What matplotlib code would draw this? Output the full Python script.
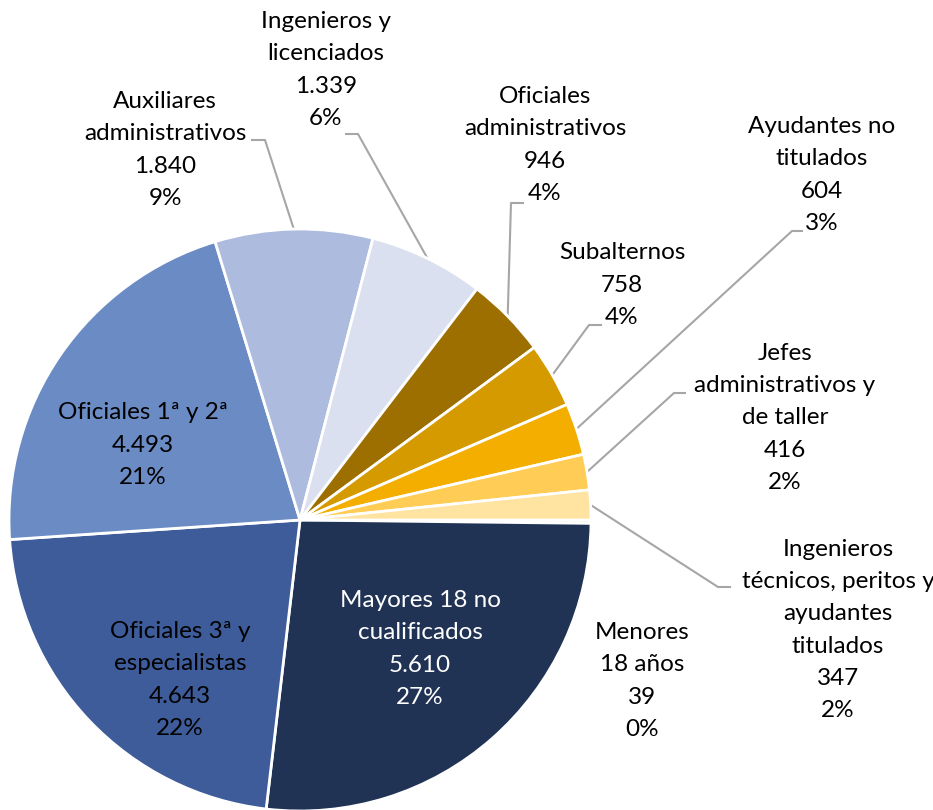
import numpy as np
import matplotlib.pyplot as plt

plt.rcParams['font.family'] = ['Lato', 'DejaVu Sans']

# data, clockwise from 3 o'clock
categories = ["Menores\n18 años", "Mayores 18 no\ncualificados", "Oficiales 3ª y\nespecialistas",
              "Oficiales 1ª y 2ª", "Auxiliares\nadministrativos", "Ingenieros y\nlicenciados",
              "Oficiales\nadministrativos", "Subalternos", "Ayudantes no\ntitulados",
              "Jefes\nadministrativos y\nde taller", "Ingenieros\ntécnicos, peritos y\nayudantes\ntitulados"]
values = [39, 5610, 4643, 4493, 1840, 1339, 946, 758, 604, 416, 347]
colors = ["#EDEDED", "#203354", "#3D5C99", "#6B8BC4", "#ADBCDE", "#DAE0F0",
          "#9C6F00", "#D49A00", "#F3AE00", "#FFCC55", "#FFE3A0"]

W, H = 933, 810
cx, cy, R = 300, H - 520, 291

fig = plt.figure(figsize=(W / 100, H / 100), dpi=100)
ax = fig.add_axes([0, 0, 1, 1])
ax.pie(values, colors=colors, startangle=0, counterclock=False,
       center=(cx, cy), radius=R, frame=True,
       wedgeprops=dict(edgecolor="white", linewidth=2))
ax.set_xlim(0, W)
ax.set_ylim(0, H)
ax.set_aspect('equal')
ax.axis('off')

total = sum(values)
cum = np.cumsum([0] + values)
mid = [-(cum[i] + values[i] / 2) / total * 360 for i in range(len(values))]

def fmt(v):
    return f"{v:,}".replace(",", ".")

# label centre (image px) and leader start points
pos = {
    0: (642, 681), 1: (420, 649), 2: (180, 680), 3: (143, 445),
    4: (165, 150), 5: (326, 70), 6: (545, 145), 7: (622, 285),
    8: (822, 175), 9: (785, 418), 10: (838, 630),
}
leaders = {
    4: [(252, 140), (265, 140)],
    5: [(346, 134), (358, 134)],
    6: [(523, 203), (511, 203)],
    7: [(601, 325), (589, 325)],
    8: [(802, 231), (792, 231)],
    9: [(685, 393), (674, 393)],
    10: [(730, 587), (718, 587)],
}

for i, cat in enumerate(categories):
    pct = round(values[i] / total * 100)
    txt = f"{cat}\n{fmt(values[i])}\n{pct}%"
    x, y = pos[i]
    col = "white" if i == 1 else "black"
    ax.text(x, H - y, txt, ha="center", va="center", fontsize=17.5,
            color=col, linespacing=1.65)
    if i in leaders:
        a = np.deg2rad(mid[i])
        ex, ey = cx + R * np.cos(a), cy + R * np.sin(a)
        pts = leaders[i]
        xs = [p[0] for p in pts] + [ex]
        ys = [H - p[1] for p in pts] + [ey]
        ax.plot(xs, ys, color="#A6A6A6", lw=1.5, zorder=0.5)

fig.savefig("out.png", dpi=100)
